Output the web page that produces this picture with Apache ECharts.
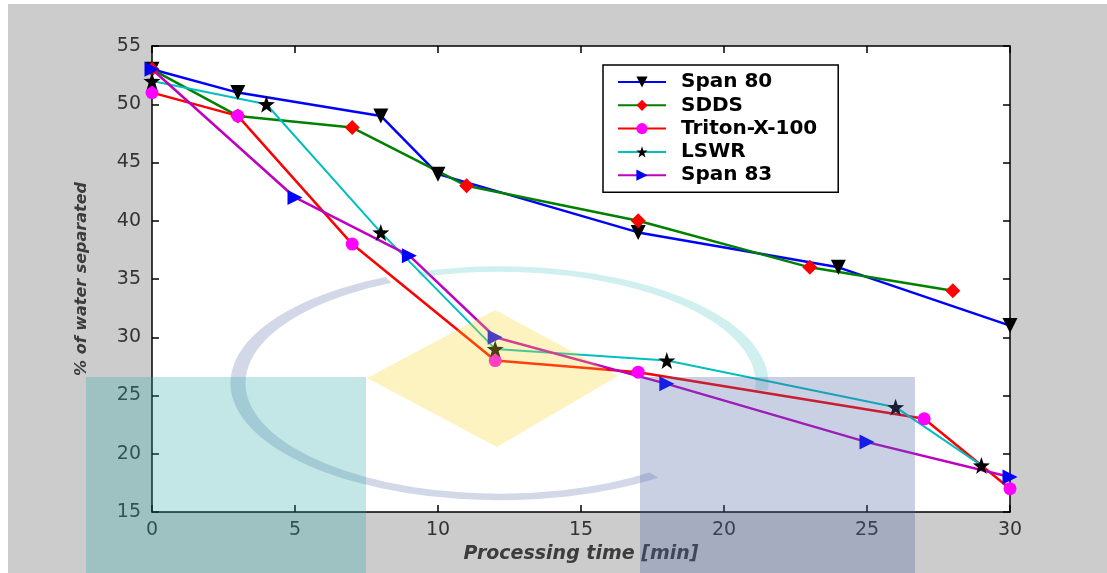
<!DOCTYPE html>
<html>
<head>
<meta charset="utf-8">
<script src="https://cdn.jsdelivr.net/npm/echarts@6/dist/echarts.min.js"></script>
<style>
  html, body { margin: 0; padding: 0; }
  #chart { width: 1107px; height: 573px; }
</style>
</head>
<body>
<div id="chart"></div>
<script>
// values
var span80X = [0, 3, 8, 10, 17, 24, 30]
var span80Y = [53, 51, 49, 44, 39, 36, 31]
var sddsX = [0, 3, 7, 11, 17, 23, 28]
var sddsY = [53, 49, 48, 43, 40, 36, 34]
var tritonX = [0, 3, 7, 12, 17, 27, 30]
var tritonY = [51, 49, 38, 28, 27, 23, 17]
var lswrX = [0, 4, 8, 12, 18, 26, 29]
var lswrY = [52, 50, 39, 29, 28, 24, 19]
var span83X = [0, 5, 9, 12, 18, 25, 30]
var span83Y = [53, 42, 37, 30, 26, 21, 18]

var starPath = 'path://M0,-10L2.35,-3.24L9.51,-3.09L3.8,1.24L5.88,8.09L0,4L-5.88,8.09L-3.8,1.24L-9.51,-3.09L-2.35,-3.24Z'

function pairs (xs, ys) {
  return xs.map(function (x, i) { return [x, ys[i]] })
}

function makeSeries (name, xs, ys, lineColor, lineWidth, symbol, size, markColor, rotate) {
  return {
    name: name,
    type: 'line',
    data: pairs(xs, ys),
    symbol: symbol,
    symbolSize: size,
    symbolRotate: rotate || 0,
    showAllSymbol: true,
    lineStyle: { color: lineColor, width: lineWidth },
    itemStyle: { color: markColor, borderWidth: 0 },
    emphasis: { disabled: true },
    animation: false
  }
}

var axisLabelStyle = { fontFamily: 'DejaVu Sans', fontSize: 19, color: '#333333' }
var axisLine = { show: true, onZero: false, lineStyle: { color: '#000', width: 1.5 } }
var axisTick = { show: true, inside: true, length: 7, lineStyle: { color: '#000', width: 1.5 } }

// watermark ellipse
var cx = 500, cy = 383, rx = 262, ry = 114

var myChart = echarts.init(document.getElementById('chart'))
myChart.setOption({
  backgroundColor: '#cccccc',
  animation: false,
  grid: {
    left: 152, right: 97, top: 46, bottom: 61,
    show: true, backgroundColor: '#ffffff', borderWidth: 0,
    outerBoundsMode: 'none'
  },
  legend: {
    orient: 'vertical',
    left: 603, top: 65,
    padding: [7, 21, 7, 14],
    itemWidth: 48, itemHeight: 14, itemGap: 3.3,
    backgroundColor: '#ffffff',
    borderColor: '#000', borderWidth: 1.5,
    textStyle: { fontFamily: 'DejaVu Sans', fontWeight: 'bold', fontSize: 20, color: '#000', padding: [0, 0, 0, 10] },
    data: ['Span 80', 'SDDS', 'Triton-X-100', 'LSWR', 'Span 83']
  },
  xAxis: [{
    type: 'value', min: 0, max: 30, interval: 5,
    name: 'Processing time [min]', nameLocation: 'middle', nameGap: 30,
    nameTextStyle: { fontFamily: 'DejaVu Sans', fontWeight: 'bold', fontStyle: 'italic', fontSize: 19, color: '#3c3c3c' },
    axisLine: axisLine, axisTick: axisTick,
    axisLabel: Object.assign({ margin: 9 }, axisLabelStyle),
    splitLine: { show: false }
  }, {
    type: 'value', min: 0, max: 30, interval: 5, position: 'top',
    axisLine: axisLine, axisTick: axisTick, axisLabel: { show: false }, splitLine: { show: false }
  }],
  yAxis: [{
    type: 'value', min: 15, max: 55, interval: 5,
    name: '% of water separated', nameLocation: 'middle', nameGap: 62,
    nameTextStyle: { fontFamily: 'DejaVu Sans', fontWeight: 'bold', fontStyle: 'italic', fontSize: 16, color: '#3c3c3c' },
    axisLine: axisLine, axisTick: axisTick,
    axisLabel: Object.assign({ margin: 11 }, axisLabelStyle),
    splitLine: { show: false }
  }, {
    type: 'value', min: 15, max: 55, interval: 5, position: 'right',
    axisLine: axisLine, axisTick: axisTick, axisLabel: { show: false }, splitLine: { show: false }
  }],
  series: [
    makeSeries('Span 80', span80X, span80Y, '#0000ff', 2.5, 'triangle', 15, '#000000', 180),
    makeSeries('SDDS', sddsX, sddsY, '#008000', 2.5, 'diamond', 15, '#ff0000'),
    makeSeries('Triton-X-100', tritonX, tritonY, '#ff0000', 2.5, 'circle', 13, '#ff00ff'),
    makeSeries('LSWR', lswrX, lswrY, '#00bfbf', 2, starPath, 17, '#000000'),
    makeSeries('Span 83', span83X, span83Y, '#bf00bf', 2.5, 'triangle', 15, '#0000ff', -90)
  ],
  // background watermark, laid over the figure
  graphic: [
    { type: 'rect', z: -10, shape: { x: 0, y: 0, width: 1107, height: 4 }, style: { fill: '#ffffff' }, silent: true },
    { type: 'rect', z: -10, shape: { x: 0, y: 0, width: 8, height: 573 }, style: { fill: '#ffffff' }, silent: true },
    { type: 'arc', z: 100, x: cx, y: cy, scaleY: ry / rx, silent: true,
      shape: { cx: 0, cy: 0, r: rx, startAngle: Math.PI * 0.3, endAngle: Math.PI * 1.36 },
      style: { stroke: 'rgba(75,98,165,0.25)', lineWidth: 15, fill: null } },
    { type: 'arc', z: 100, x: cx, y: cy, scaleY: ry / rx, silent: true,
      shape: { cx: 0, cy: 0, r: rx, startAngle: Math.PI * 1.4, endAngle: Math.PI * 2.02 },
      style: { stroke: 'rgba(40,180,180,0.22)', lineWidth: 13, fill: null } },
    { type: 'polygon', z: 100, silent: true,
      shape: { points: [[495, 310], [618, 376], [497, 447], [367, 378]] },
      style: { fill: 'rgba(248,215,45,0.3)' } },
    { type: 'rect', z: 100, silent: true,
      shape: { x: 86, y: 377, width: 280, height: 196 },
      style: { fill: 'rgba(40,170,170,0.28)' } },
    { type: 'rect', z: 100, silent: true,
      shape: { x: 640, y: 377, width: 275, height: 196 },
      style: { fill: 'rgba(75,98,165,0.3)' } }
  ]
})
</script>
</body>
</html>
